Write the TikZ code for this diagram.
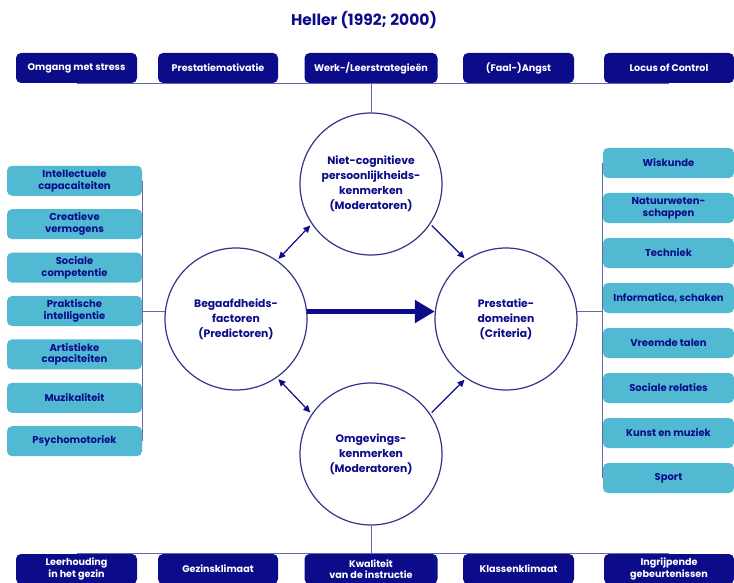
\documentclass[tikz,border=0pt]{standalone}
\usepackage{fontspec}
\setmainfont{Poppins}
\usepackage{tikz}
\usetikzlibrary{arrows.meta,positioning,backgrounds}
\definecolor{navy}{RGB}{12,12,138}
\definecolor{lightblue}{RGB}{82,185,211}
\definecolor{buscol}{RGB}{104,104,168}
\definecolor{ringcol}{RGB}{52,52,138}
\tikzstyle{DarkBox} = [rectangle, rounded corners=5pt, fill=navy, text=white, align=center, minimum height=30pt, inner sep=1pt, font=\bfseries\fontsize{9.6}{11.5}\selectfont]
\tikzstyle{LightBox} = [rectangle, rounded corners=5pt, fill=lightblue, text=navy, align=center, minimum height=30pt, inner sep=1pt, font=\bfseries\fontsize{10}{11.8}\selectfont]
\tikzstyle{Circle} = [circle, draw=ringcol, line width=1.2pt, fill=white, text=navy, align=center, minimum size=142pt, inner sep=0pt, font=\bfseries\fontsize{10.8}{15}\selectfont]
\tikzstyle{bus} = [draw=buscol, line width=1pt]
\tikzstyle{arrow} = [line width=1.2pt, draw=navy, -{Triangle[length=7pt,width=6.5pt]}, shorten <=2pt, shorten >=2pt]
\tikzstyle{dblarrow} = [arrow, {Triangle[length=7pt,width=6.5pt]}-{Triangle[length=7pt,width=6.5pt]}]
\tikzstyle{bigarrow} = [line width=5pt, draw=navy, -{Triangle[length=20pt,width=22pt]}]

\begin{document}
\begin{tikzpicture}[every text node part/.style={align=center}, x=1pt, y=1pt]
\useasboundingbox (0,0) rectangle (734,-583);

\node (Title)[text=navy, font=\bfseries\fontsize{15.5}{19}\selectfont] at (364,-20){Heller (1992; 2000)};

\node (Niet cognitief)[Circle] at (371,-184){Niet-cognitieve\\persoonlijkheids-\\kenmerken\\(Moderatoren)};
\node (Begaafdheid)[Circle, node distance=135pt, below of = Niet cognitief, xshift=-135pt]{Begaafdheids-\\factoren\\(Predictoren)};
\node (Prestatie)[Circle, node distance=135pt, below of = Niet cognitief, xshift=135pt]{Prestatie-\\domeinen\\(Criteria)};
\node (Omgeving)[Circle, node distance=270pt, below of = Niet cognitief]{Omgevings-\\kenmerken\\(Moderatoren)};

\node (Werk)[DarkBox, minimum width=133pt, node distance=116pt, above of = Niet cognitief]{Werk-/Leerstrategieën};
\node (Prestatiemotivatie)[DarkBox, minimum width=120pt, node distance=153pt, left of = Werk]{Prestatiemotivatie};
\node (Stress)[DarkBox, minimum width=121pt, node distance=141.5pt, left of = Prestatiemotivatie]{Omgang met stress};
\node (Angst)[DarkBox, minimum width=111pt, node distance=147.5pt, right of = Werk]{(Faal-)Angst};
\node (Locus)[DarkBox, minimum width=130pt, node distance=150.5pt, right of = Angst]{Locus of Control};

\node (Kwaliteit)[DarkBox, minimum width=133pt, node distance=115pt, below of = Omgeving]{Kwaliteit\\van de instructie};
\node (Gezinsklimaat)[DarkBox, minimum width=120pt, node distance=153pt, left of = Kwaliteit]{Gezinsklimaat};
\node (Leerhouding)[DarkBox, minimum width=121pt, node distance=141.5pt, left of = Gezinsklimaat]{Leerhouding\\in het gezin};
\node (Klassenklimaat)[DarkBox, minimum width=111pt, node distance=147.5pt, right of = Kwaliteit]{Klassenklimaat};
\node (Ingrijpende)[DarkBox, minimum width=130pt, node distance=150.5pt, right of = Klassenklimaat]{Ingrijpende\\gebeurtenissen};

\node (Praktisch)[LightBox, minimum width=135pt, node distance=161.5pt, left of = Begaafdheid, yshift=8pt]{Praktische\\intelligentie};
\node (Sociaal)[LightBox, minimum width=135pt, node distance=43.4pt, above of = Praktisch]{Sociale\\competentie};
\node (Creatief)[LightBox, minimum width=135pt, node distance=43.4pt, above of = Sociaal]{Creatieve\\vermogens};
\node (Intellectueel)[LightBox, minimum width=135pt, node distance=43.4pt, above of = Creatief]{Intellectuele\\capacaiteiten};
\node (Artistiek)[LightBox, minimum width=135pt, node distance=43.4pt, below of = Praktisch]{Artistieke\\capaciteiten};
\node (Muzikaliteit)[LightBox, minimum width=135pt, node distance=43.4pt, below of = Artistiek]{Muzikaliteit};
\node (Psychomotoriek)[LightBox, minimum width=135pt, node distance=43.4pt, below of = Muzikaliteit]{Psychomotoriek};

\node (Informatica)[LightBox, minimum width=131pt, node distance=162.5pt, right of = Prestatie, yshift=21pt]{Informatica, schaken};
\node (Techniek)[LightBox, minimum width=131pt, node distance=45pt, above of = Informatica]{Techniek};
\node (Natuurwetenschappen)[LightBox, minimum width=131pt, node distance=45pt, above of = Techniek]{Natuurweten-\\schappen};
\node (Wiskunde)[LightBox, minimum width=131pt, node distance=45pt, above of = Natuurwetenschappen]{Wiskunde};
\node (Talen)[LightBox, minimum width=131pt, node distance=45pt, below of = Informatica]{Vreemde talen};
\node (Relaties)[LightBox, minimum width=131pt, node distance=45pt, below of = Talen]{Sociale relaties};
\node (Kunst)[LightBox, minimum width=131pt, node distance=45pt, below of = Relaties]{Kunst en muziek};
\node (Sport)[LightBox, minimum width=131pt, node distance=45pt, below of = Kunst]{Sport};

\begin{scope}[on background layer]
\draw[bus](Stress.south)--(Locus.south);
\draw[bus](Werk.south)--(Niet cognitief.north);
\draw[bus](Leerhouding.north)--(Ingrijpende.north);
\draw[bus](Omgeving.south)--(Kwaliteit.north);
\draw[bus](Intellectueel.east)--(Psychomotoriek.east);
\draw[bus](Begaafdheid.174)--(Begaafdheid.174 -| Praktisch.east);
\draw[bus](Wiskunde.west)--(Sport.west);
\draw[bus](Prestatie.6)--(Prestatie.6 -| Informatica.west);
\end{scope}

\draw[bigarrow](Begaafdheid.6)--(Prestatie.174);
\draw[dblarrow](Begaafdheid.55)--(Niet cognitief.214);
\draw[dblarrow](Begaafdheid.-55)--(Omgeving.146);
\draw[arrow](Niet cognitief.-34)--(Prestatie.124);
\draw[arrow](Omgeving.34)--(Prestatie.236);

\end{tikzpicture}
\end{document}
